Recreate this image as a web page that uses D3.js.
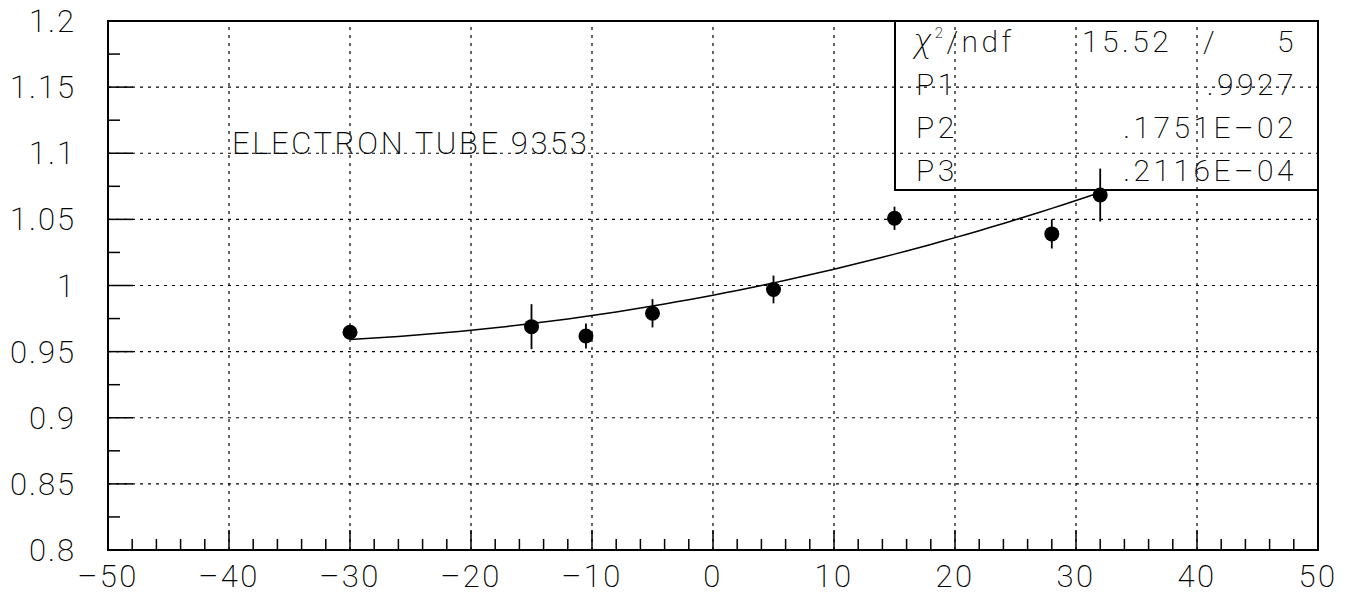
<!DOCTYPE html>
<html>
<head>
<meta charset="utf-8">
<script src="https://cdn.jsdelivr.net/npm/d3@7"></script>
<style>
    body { margin: 0; background: #fff; }
    svg text { font-family: Roboto, "DejaVu Sans", sans-serif; font-weight: 200; fill: #000; }
</style>
</head>
<body>
<div id="chart"></div>
<script>
// measured points (x, value, error)
const xValues = [-30, -15, -10.5, -5, 5, 15, 28, 32];
const yValues = [0.9646, 0.9689, 0.9618, 0.979, 0.997, 1.0508, 1.039, 1.0684];
const yErrors = [0.004, 0.017, 0.0095, 0.0107, 0.0105, 0.0088, 0.011, 0.02];

// fit parameters shown in the stat box (pol2)
const fitParams = [0.9927, 0.1751e-02, 0.2116e-04];
const fitRange = [-30, 32];

const xTicks = [-50, -40, -30, -20, -10, 0, 10, 20, 30, 40, 50];
const yTicks = [0.8, 0.85, 0.9, 0.95, 1, 1.05, 1.1, 1.15, 1.2];
const yTickLabels = ["0.8", "0.85", "0.9", "0.95", "1", "1.05", "1.1", "1.15", "1.2"];

const statLabels = ["P1", "P2", "P3"];
const statValues = [".9927", ".1751E\u201302", ".2116E\u201304"];
const chi2 = "15.52";
const ndf = "5";
const title = "ELECTRON TUBE 9353";

const width = 1358, height = 594;
const margin = {left: 108, right: 40, top: 21, bottom: 44};

const svg = d3.select("#chart").append("svg")
    .attr("width", width)
    .attr("height", height);

const x = d3.scaleLinear().domain([-50, 50]).range([margin.left, width - margin.right]);
const y = d3.scaleLinear().domain([0.8, 1.2]).range([height - margin.bottom, margin.top]);

// long dash for the minus sign, like the old plotting font
const minus = s => s.replace("-", "\u2013");

// grid (dotted, inside the frame only)
svg.append("g").selectAll("line")
    .data(xTicks.slice(1, -1))
    .join("line")
    .attr("x1", d => x(d)).attr("x2", d => x(d))
    .attr("y1", y(0.8)).attr("y2", y(1.2))
    .attr("stroke", "#000").attr("stroke-width", 1.2)
    .attr("stroke-dasharray", "3,5");

svg.append("g").selectAll("line")
    .data(yTicks.slice(1, -1))
    .join("line")
    .attr("x1", x(-50)).attr("x2", x(50))
    .attr("y1", d => y(d)).attr("y2", d => y(d))
    .attr("stroke", "#000").attr("stroke-width", 1.2)
    .attr("stroke-dasharray", "3,5");

// ticks drawn inward, major + minor
const xMinor = d3.range(-50, 50.001, 2);
svg.append("g").selectAll("line")
    .data(xMinor)
    .join("line")
    .attr("x1", d => x(d)).attr("x2", d => x(d))
    .attr("y1", y(0.8))
    .attr("y2", d => y(0.8) - (Math.abs(d % 10) < 1e-9 ? 20 : 11))
    .attr("stroke", "#000").attr("stroke-width", 1.5);

const yMinor = d3.range(0.8, 1.2001, 0.025);
svg.append("g").selectAll("line")
    .data(yMinor)
    .join("line")
    .attr("x1", x(-50))
    .attr("x2", (d, i) => x(-50) + (i % 2 === 0 ? 25 : 12))
    .attr("y1", d => y(d)).attr("y2", d => y(d))
    .attr("stroke", "#000").attr("stroke-width", 1.5);

// frame
svg.append("rect")
    .attr("x", x(-50)).attr("y", y(1.2))
    .attr("width", x(50) - x(-50)).attr("height", y(0.8) - y(1.2))
    .attr("fill", "none").attr("stroke", "#000").attr("stroke-width", 2);

// axis labels
svg.append("g").selectAll("text")
    .data(xTicks)
    .join("text")
    .attr("x", d => x(d))
    .attr("y", y(0.8) + 37)
    .attr("text-anchor", "middle")
    .attr("font-size", 31)
    .attr("letter-spacing", 2.5)
    .text(d => minus(String(d)));

svg.append("g").selectAll("text")
    .data(yTicks)
    .join("text")
    .attr("x", 76)
    .attr("y", d => y(d) + 11)
    .attr("text-anchor", "end")
    .attr("font-size", 31)
    .attr("letter-spacing", 2)
    .text((d, i) => yTickLabels[i]);

// fit curve
const fitX = d3.range(fitRange[0], fitRange[1] + 0.001, 1);
const fitLine = d3.line()
    .x(d => x(d))
    .y(d => y(fitParams[0] + fitParams[1] * d + fitParams[2] * d * d));
svg.append("path")
    .datum(fitX)
    .attr("d", fitLine)
    .attr("fill", "none").attr("stroke", "#000").attr("stroke-width", 1.5);

// error bars and markers
const pts = xValues.map((d, i) => ({x: d, y: yValues[i], e: yErrors[i]}));
svg.append("g").selectAll("line")
    .data(pts)
    .join("line")
    .attr("x1", d => x(d.x)).attr("x2", d => x(d.x))
    .attr("y1", d => y(d.y - d.e)).attr("y2", d => y(d.y + d.e))
    .attr("stroke", "#000").attr("stroke-width", 1.8);

svg.append("g").selectAll("circle")
    .data(pts)
    .join("circle")
    .attr("cx", d => x(d.x)).attr("cy", d => y(d.y))
    .attr("r", 7.5)
    .attr("fill", "#000");

// title text
svg.append("text")
    .attr("x", 232).attr("y", 154)
    .attr("font-size", 31)
    .attr("letter-spacing", 2.6)
    .text(title);

// stat box
const box = {x: 895, y: y(1.2), w: x(50) - 895, h: 169};
svg.append("rect")
    .attr("x", box.x).attr("y", box.y)
    .attr("width", box.w).attr("height", box.h)
    .attr("fill", "none").attr("stroke", "#000").attr("stroke-width", 2);

const rowY = i => box.y + 31 + i * 43;
const stat = svg.append("g").attr("font-size", 30).attr("letter-spacing", 3.5);

const chiLabel = stat.append("text").attr("x", 914).attr("y", rowY(0));
chiLabel.append("tspan").attr("font-style", "italic").attr("font-size", 34).text("\u03c7");
chiLabel.append("tspan").attr("font-size", 15).attr("dy", -14).text("2");
chiLabel.append("tspan").attr("dy", 14).text("/ndf");

stat.append("text").attr("x", 1082).attr("y", rowY(0)).text(chi2);
stat.append("text").attr("x", 1203).attr("y", rowY(0)).text("/");
stat.append("text").attr("x", 1297).attr("y", rowY(0)).attr("text-anchor", "end").text(ndf);

stat.selectAll(".lab")
    .data(statLabels)
    .join("text")
    .attr("class", "lab")
    .attr("x", 916)
    .attr("y", (d, i) => rowY(i + 1))
    .text(d => d);

stat.selectAll(".val")
    .data(statValues)
    .join("text")
    .attr("class", "val")
    .attr("x", 1297)
    .attr("y", (d, i) => rowY(i + 1))
    .attr("text-anchor", "end")
    .text(d => d);
</script>
</body>
</html>
